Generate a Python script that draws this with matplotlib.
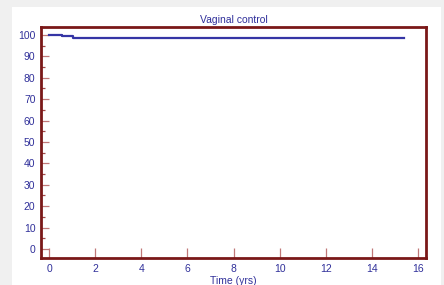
import matplotlib
matplotlib.use("Agg")
import matplotlib.pyplot as plt
from matplotlib.patches import Rectangle
from matplotlib.ticker import MultipleLocator

plt.rcParams['font.family'] = ['Liberation Sans', 'DejaVu Sans']

# Data (step survival curve)
time_yrs = [0.0, 0.55, 1.05, 15.4]
survival = [100.0, 99.4, 98.5, 98.5]

x_ticks = [0, 2, 4, 6, 8, 10, 12, 14, 16]
y_ticks = [0, 10, 20, 30, 40, 50, 60, 70, 80, 90, 100]
title = "Vaginal control"
xlabel = "Time (yrs)"

W, H = 444, 285
fig = plt.figure(figsize=(W / 100, H / 100), dpi=100)
fig.patch.set_facecolor("#f0f0f0")
# white panel
fig.patches.append(Rectangle((12 / W, 0), (441 - 12) / W, (H - 7) / H,
                             transform=fig.transFigure, facecolor="white",
                             edgecolor="none", zorder=-10))

left, right, top, bottom = 41, 426, 27, 258
ax = fig.add_axes([left / W, 1 - bottom / H, (right - left) / W, (bottom - top) / H])
ax.set_zorder(5)
ax.set_facecolor("white")

ax.step(time_yrs, survival, where="post", color="#3535a5", lw=1.6)

ax.set_xlim(-0.35, 16.35)
ax.set_ylim(-4.2, 103.7)
ax.set_xticks(x_ticks)
ax.set_yticks(y_ticks)
ax.yaxis.set_minor_locator(MultipleLocator(5))

label_color = "#30309a"
tick_color = "#c07878"
ax.tick_params(axis="both", which="major", direction="in", length=6, width=0.9,
               colors=tick_color, labelcolor=label_color, labelsize=7.5, pad=4)
ax.tick_params(axis="y", which="minor", direction="in", length=3, width=0.9,
               colors="#a04848")
ax.tick_params(axis="x", which="major", length=7)

for s in ax.spines.values():
    s.set_color("#7a1818")
    s.set_linewidth(2)

ax.set_title(title, fontsize=7.5, color=label_color, pad=3)
ax.set_xlabel(xlabel, fontsize=7.5, color=label_color, labelpad=2)

fig.savefig("out.png", dpi=100, facecolor=fig.get_facecolor())
